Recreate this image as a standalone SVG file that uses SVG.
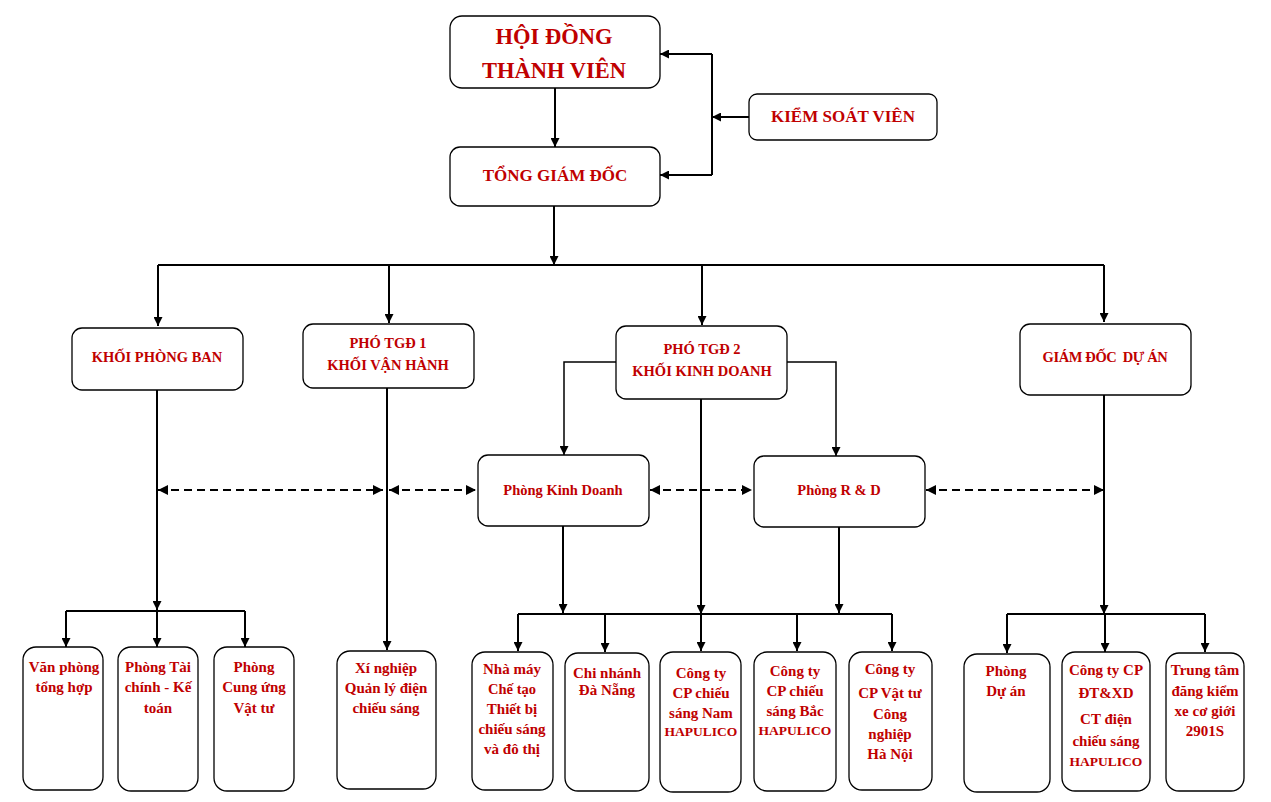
<svg xmlns="http://www.w3.org/2000/svg" width="1271" height="802" viewBox="0 0 1271 802">
<defs>
<marker id="arr" viewBox="0 0 10 10" refX="10" refY="5" markerWidth="9" markerHeight="9" markerUnits="userSpaceOnUse" orient="auto">
<path d="M0,0 L10,5 L0,10 z" fill="#000"/>
</marker>
<marker id="arrs" viewBox="0 0 10 10" refX="10" refY="5" markerWidth="10" markerHeight="10" markerUnits="userSpaceOnUse" orient="auto-start-reverse">
<path d="M0,0 L10,5 L0,10 z" fill="#000"/>
</marker>
</defs>
<style>
.box{fill:#fff;stroke:#000;stroke-width:1.3}
.t{font-family:"Liberation Serif","Times New Roman",serif;font-weight:bold;fill:#C00000;text-anchor:middle;white-space:pre}
.s14{font-size:14.5px}
.s13{font-size:13.5px}
.s15{font-size:15px}
.s16{font-size:17px}
.s22{font-size:22.5px}
.ln{fill:none;stroke:#000;stroke-width:2}
.da{fill:none;stroke:#000;stroke-width:2;stroke-dasharray:8,5}
</style>
<rect width="1271" height="802" fill="#fff"/>
<g id="connectors">
<path class="ln" d="M555,88 V147" marker-end="url(#arr)"/>
<path class="ln" d="M749,117 H712" marker-end="url(#arr)"/>
<path class="ln" d="M712,54 V175"/>
<path class="ln" d="M712,54 H660" marker-end="url(#arr)"/>
<path class="ln" d="M712,175 H660" marker-end="url(#arr)"/>
<path class="ln" d="M554,206 V265" marker-end="url(#arr)"/>
<path class="ln" d="M158,265 H1104"/>
<path class="ln" d="M158,265 V326" marker-end="url(#arr)"/>
<path class="ln" d="M389,265 V323" marker-end="url(#arr)"/>
<path class="ln" d="M702,265 V325" marker-end="url(#arr)"/>
<path class="ln" d="M1104,265 V322" marker-end="url(#arr)"/>
<path class="ln" d="M616,362 H564 V455" marker-end="url(#arr)" style="stroke-width:1.5"/>
<path class="ln" d="M787,362 H836 V456" marker-end="url(#arr)" style="stroke-width:1.5"/>
<path class="ln" d="M157,390 V610" marker-end="url(#arr)"/>
<path class="ln" d="M387,388 V650" marker-end="url(#arr)"/>
<path class="ln" d="M701,399 V614" marker-end="url(#arr)"/>
<path class="ln" d="M1104,395 V614" marker-end="url(#arr)"/>
<path class="ln" d="M563,526 V613" marker-end="url(#arr)"/>
<path class="ln" d="M839,527 V613" marker-end="url(#arr)"/>
<path class="da" d="M158,490 H383" marker-start="url(#arrs)" marker-end="url(#arrs)"/>
<path class="da" d="M389,490 H476" marker-start="url(#arrs)" marker-end="url(#arrs)"/>
<path class="da" d="M650,490 H752" marker-start="url(#arrs)" marker-end="url(#arrs)"/>
<path class="da" d="M926,490 H1104" marker-start="url(#arrs)" marker-end="url(#arrs)"/>
<path class="ln" d="M66,611 H245"/>
<path class="ln" d="M66,611 V647" marker-end="url(#arr)"/>
<path class="ln" d="M157,611 V647" marker-end="url(#arr)"/>
<path class="ln" d="M245,611 V647" marker-end="url(#arr)"/>
<path class="ln" d="M518,614 H892"/>
<path class="ln" d="M518,614 V651" marker-end="url(#arr)"/>
<path class="ln" d="M605,614 V652" marker-end="url(#arr)"/>
<path class="ln" d="M701,614 V651" marker-end="url(#arr)"/>
<path class="ln" d="M797,614 V651" marker-end="url(#arr)"/>
<path class="ln" d="M892,614 V651" marker-end="url(#arr)"/>
<path class="ln" d="M1007,614 H1205"/>
<path class="ln" d="M1007,614 V653" marker-end="url(#arr)"/>
<path class="ln" d="M1105,614 V652" marker-end="url(#arr)"/>
<path class="ln" d="M1205,614 V652" marker-end="url(#arr)"/>
</g>
<g id="hdtv"><rect class="box" x="450" y="16" width="210" height="72" rx="12"/>
<text class="t s22" x="554" y="44">HỘI ĐỒNG</text><text class="t s22" x="554" y="78">THÀNH VIÊN</text></g>
<g id="ksv"><rect class="box" x="749" y="94" width="188" height="46" rx="8"/>
<text class="t s16" x="843" y="122">KIỂM SOÁT VIÊN</text></g>
<g id="tgd"><rect class="box" x="450" y="147" width="210" height="59" rx="10"/>
<text class="t s16" x="555" y="181">TỔNG GIÁM ĐỐC</text></g>
<g id="kpb"><rect class="box" x="72" y="328" width="171" height="62" rx="10"/>
<text class="t s14" x="157" y="362">KHỐI PHÒNG BAN</text></g>
<g id="ptgd1"><rect class="box" x="303" y="324" width="171" height="64" rx="10"/>
<text class="t s14" x="388" y="348">PHÓ TGĐ 1</text><text class="t s14" x="388" y="370">KHỐI VẬN HÀNH</text></g>
<g id="ptgd2"><rect class="box" x="616" y="326" width="171" height="73" rx="10"/>
<text class="t s14" x="702" y="354">PHÓ TGĐ 2</text><text class="t s14" x="702" y="376">KHỐI KINH DOANH</text></g>
<g id="gdda"><rect class="box" x="1020" y="324" width="171" height="71" rx="10"/>
<text class="t s14" x="1105" y="362" style="letter-spacing:-0.4px">GIÁM ĐỐC  DỰ ÁN</text></g>
<g id="pkd"><rect class="box" x="478" y="455" width="171" height="71" rx="10"/>
<text class="t s14" x="563" y="495">Phòng Kinh Doanh</text></g>
<g id="prd"><rect class="box" x="754" y="456" width="171" height="71" rx="10"/>
<text class="t s14" x="839" y="495">Phòng R &amp; D</text></g>
<g id="vpth"><rect class="box" x="23" y="647" width="80" height="143" rx="13"/>
<text class="t s15" x="64" y="672">Văn phòng</text><text class="t s15" x="64" y="692">tổng hợp</text></g>
<g id="ptckt"><rect class="box" x="118" y="647" width="80" height="144" rx="13"/>
<text class="t s15" x="158" y="672">Phòng Tài</text><text class="t s15" x="158" y="692">chính - Kế</text><text class="t s15" x="158" y="713">toán</text></g>
<g id="pcuvt"><rect class="box" x="214" y="647" width="80" height="144" rx="13"/>
<text class="t s15" x="254" y="672">Phòng</text><text class="t s15" x="254" y="692">Cung ứng</text><text class="t s15" x="254" y="713">Vật tư</text></g>
<g id="xn"><rect class="box" x="337" y="651" width="99" height="138" rx="13"/>
<text class="t s15" x="386" y="673">Xí nghiệp</text><text class="t s15" x="386" y="693">Quản lý điện</text><text class="t s15" x="386" y="713">chiếu sáng</text></g>
<g id="nm"><rect class="box" x="472" y="652" width="81" height="138" rx="13"/>
<text class="t s15" x="512" y="674">Nhà máy</text><text class="t s14" x="512" y="694">Chế tạo</text><text class="t s15" x="512" y="714">Thiết bị</text><text class="t s15" x="512" y="734">chiếu sáng</text><text class="t s15" x="512" y="754">và đô thị</text></g>
<g id="cn"><rect class="box" x="565" y="653" width="84" height="138" rx="13"/>
<text class="t s15" x="607" y="678">Chi nhánh</text><text class="t s15" x="607" y="695">Đà Nẵng</text></g>
<g id="ctnam"><rect class="box" x="660" y="652" width="81" height="140" rx="13"/>
<text class="t s15" x="701" y="678">Công ty</text><text class="t s15" x="701" y="698">CP chiếu</text><text class="t s15" x="701" y="718">sáng Nam</text><text class="t s13" x="701" y="736">HAPULICO</text></g>
<g id="ctbac"><rect class="box" x="754" y="652" width="82" height="139" rx="13"/>
<text class="t s15" x="795" y="676">Công ty</text><text class="t s15" x="795" y="696">CP chiếu</text><text class="t s15" x="795" y="716">sáng Bắc</text><text class="t s13" x="795" y="735">HAPULICO</text></g>
<g id="ctvt"><rect class="box" x="849" y="652" width="83" height="138" rx="13"/>
<text class="t s15" x="890" y="674">Công ty</text><text class="t s15" x="890" y="698">CP Vật tư</text><text class="t s15" x="890" y="719">Công</text><text class="t s15" x="890" y="739">nghiệp</text><text class="t s15" x="890" y="759">Hà Nội</text></g>
<g id="pda"><rect class="box" x="964" y="654" width="86" height="138" rx="13"/>
<text class="t s15" x="1006" y="676">Phòng</text><text class="t s15" x="1006" y="696">Dự án</text></g>
<g id="ctdtxd"><rect class="box" x="1062" y="652" width="88" height="139" rx="13"/>
<text class="t s15" x="1106" y="675">Công ty CP</text><text class="t s15" x="1106" y="698">ĐT&amp;XD</text><text class="t s15" x="1106" y="724">CT điện</text><text class="t s15" x="1106" y="746">chiếu sáng</text><text class="t s13" x="1106" y="766">HAPULICO</text></g>
<g id="ttdk"><rect class="box" x="1166" y="653" width="78" height="138" rx="13"/>
<text class="t s15" x="1205" y="675">Trung tâm</text><text class="t s15" x="1205" y="696">đăng kiểm</text><text class="t s15" x="1205" y="716">xe cơ giới</text><text class="t s15" x="1205" y="736">2901S</text></g>
</svg>
